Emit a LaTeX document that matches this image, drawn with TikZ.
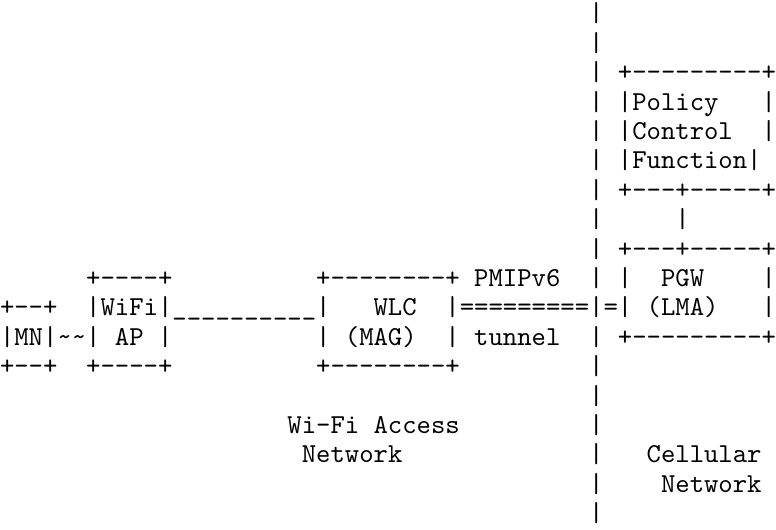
\documentclass[tikz,border=0pt]{standalone}
\usetikzlibrary{positioning}

\newlength\colw \setlength\colw{5.25pt}
\newlength\rowh \setlength\rowh{10.74pt}
\newcommand\blank[1]{\hspace*{#1\colw}}
\newcommand\tl{\textasciitilde}

\tikzset{asciiline/.style={font=\ttfamily, inner sep=0pt, text width=56\colw,
  align=left, text height=8pt, text depth=2.74pt}}

\begin{document}
\begin{tikzpicture}[node distance=\rowh]
\useasboundingbox (0,0) rectangle (54\colw,-18\rowh);

\node[asciiline] (r0) at (28\colw,-0.5\rowh) {\blank{41}|};
\node[asciiline] (r1)  [below of=r0]  {\blank{41}|};
\node[asciiline] (r2)  [below of=r1]  {\blank{41}|\blank{1}+---------+};
\node[asciiline] (r3)  [below of=r2]  {\blank{41}|\blank{1}|Policy\blank{3}|};
\node[asciiline] (r4)  [below of=r3]  {\blank{41}|\blank{1}|Control\blank{2}|};
\node[asciiline] (r5)  [below of=r4]  {\blank{41}|\blank{1}|Function|};
\node[asciiline] (r6)  [below of=r5]  {\blank{41}|\blank{1}+---+-----+};
\node[asciiline] (r7)  [below of=r6]  {\blank{41}|\blank{5}|};
\node[asciiline] (r8)  [below of=r7]  {\blank{41}|\blank{1}+---+-----+};
\node[asciiline] (r9)  [below of=r8]  {\blank{6}+----+\blank{10}+--------+\blank{1}PMIPv6\blank{2}|\blank{1}|\blank{2}PGW\blank{4}|};
\node[asciiline] (r10) [below of=r9]  {+--+\blank{2}|WiFi|\_\_\_\_\_\_\_\_\_\_|\blank{3}WLC\blank{2}|=========|=|\blank{1}(LMA)\blank{3}|};
\node[asciiline] (r11) [below of=r10] {|MN|\tl{}\tl{}|\blank{1}AP\blank{1}|\blank{10}|\blank{1}(MAG)\blank{2}|\blank{1}tunnel\blank{2}|\blank{1}+---------+};
\node[asciiline] (r12) [below of=r11] {+--+\blank{2}+----+\blank{10}+--------+\blank{9}|};
\node[asciiline] (r13) [below of=r12] {\blank{41}|};
\node[asciiline] (r14) [below of=r13] {\blank{20}Wi-Fi\blank{1}Access\blank{9}|};
\node[asciiline] (r15) [below of=r14] {\blank{21}Network\blank{13}|\blank{3}Cellular};
\node[asciiline] (r16) [below of=r15] {\blank{41}|\blank{4}Network};
\node[asciiline] (r17) [below of=r16] {\blank{41}|};

\end{tikzpicture}
\end{document}
